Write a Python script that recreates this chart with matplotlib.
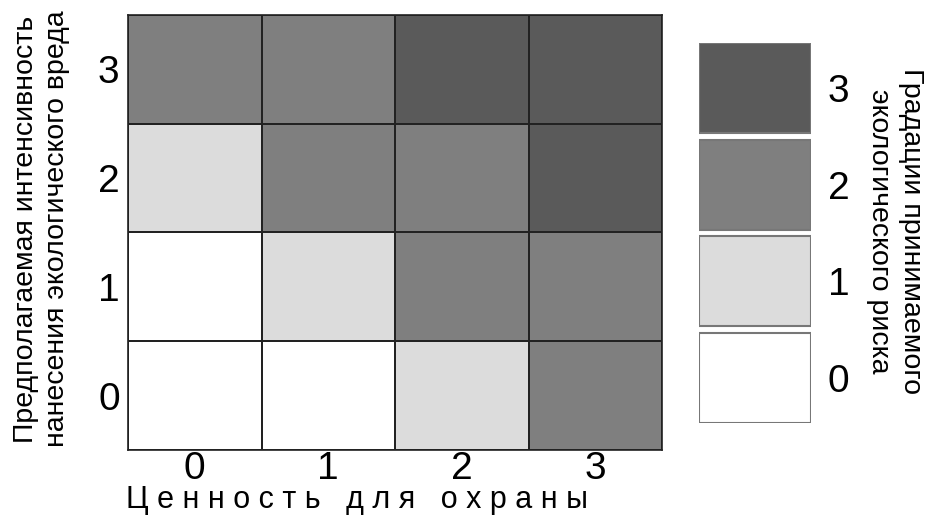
import numpy as np
import matplotlib.pyplot as plt
from matplotlib.colors import ListedColormap

# Данные матрицы риска (строки: интенсивность вреда 0..3, столбцы: ценность 0..3)
risk = np.array([
    [0, 0, 1, 2],
    [0, 1, 2, 2],
    [1, 2, 2, 3],
    [2, 2, 3, 3],
])
levels = [0, 1, 2, 3]
x_ticks = ['0', '1', '2', '3']
y_ticks = ['0', '1', '2', '3']
grays = ['#ffffff', '#dcdcdc', '#7f7f7f', '#5a5a5a']

plt.rcParams['font.family'] = ['Liberation Sans', 'DejaVu Sans']

W, H = 934, 516
fig = plt.figure(figsize=(W / 100, H / 100), dpi=100)

# Основная матрица
ax = fig.add_axes([128 / W, (H - 450) / H, 534 / W, 435 / H])
cmap = ListedColormap(grays)
ax.pcolormesh(risk, cmap=cmap, vmin=-0.5, vmax=3.5, edgecolors='#222222', linewidth=1.2)
ax.set_xticks(np.arange(4) + 0.5)
ax.set_xticklabels(x_ticks)
ax.set_yticks(np.arange(4) + 0.5)
ax.set_yticklabels(y_ticks)
ax.tick_params(length=0, labelsize=28, pad=1)
ax.tick_params(axis='y', pad=6)
for s in ax.spines.values():
    s.set_color('#222222')
    s.set_linewidth(1.2)

# Легенда градаций
lax = fig.add_axes([699 / W, (H - 423) / H, 112 / W, 380 / H])
lax.bar([0] * 4, [0.93] * 4, bottom=levels, width=1, color=grays,
        edgecolor='#777777', linewidth=1.5, align='edge')
lax.set_xlim(0, 1)
lax.set_ylim(0, 3.93)
lax.set_xticks([])
lax.set_yticks(np.array(levels) + 0.465)
lax.set_yticklabels([str(v) for v in levels])
lax.yaxis.tick_right()
lax.tick_params(length=0, labelsize=28, pad=12)
for s in lax.spines.values():
    s.set_visible(False)

# Подписи
fig.text(357 / W, 1 - 508 / H, 'Ц е н н о с т ь   д л я   о х р а н ы',
         ha='center', va='baseline', fontsize=22)
fig.text(42 / W, 1 - 229 / H,
         'Предполагаемая интенсивность\nнанесения экологического вреда',
         rotation=90, ha='center', va='center', fontsize=20.5, linespacing=1.25)
fig.text(895 / W, 1 - 231 / H,
         'Градации принимаемого\nэкологического риска',
         rotation=270, ha='center', va='center', fontsize=20.5, linespacing=1.25)

fig.savefig('out.png', dpi=100)
